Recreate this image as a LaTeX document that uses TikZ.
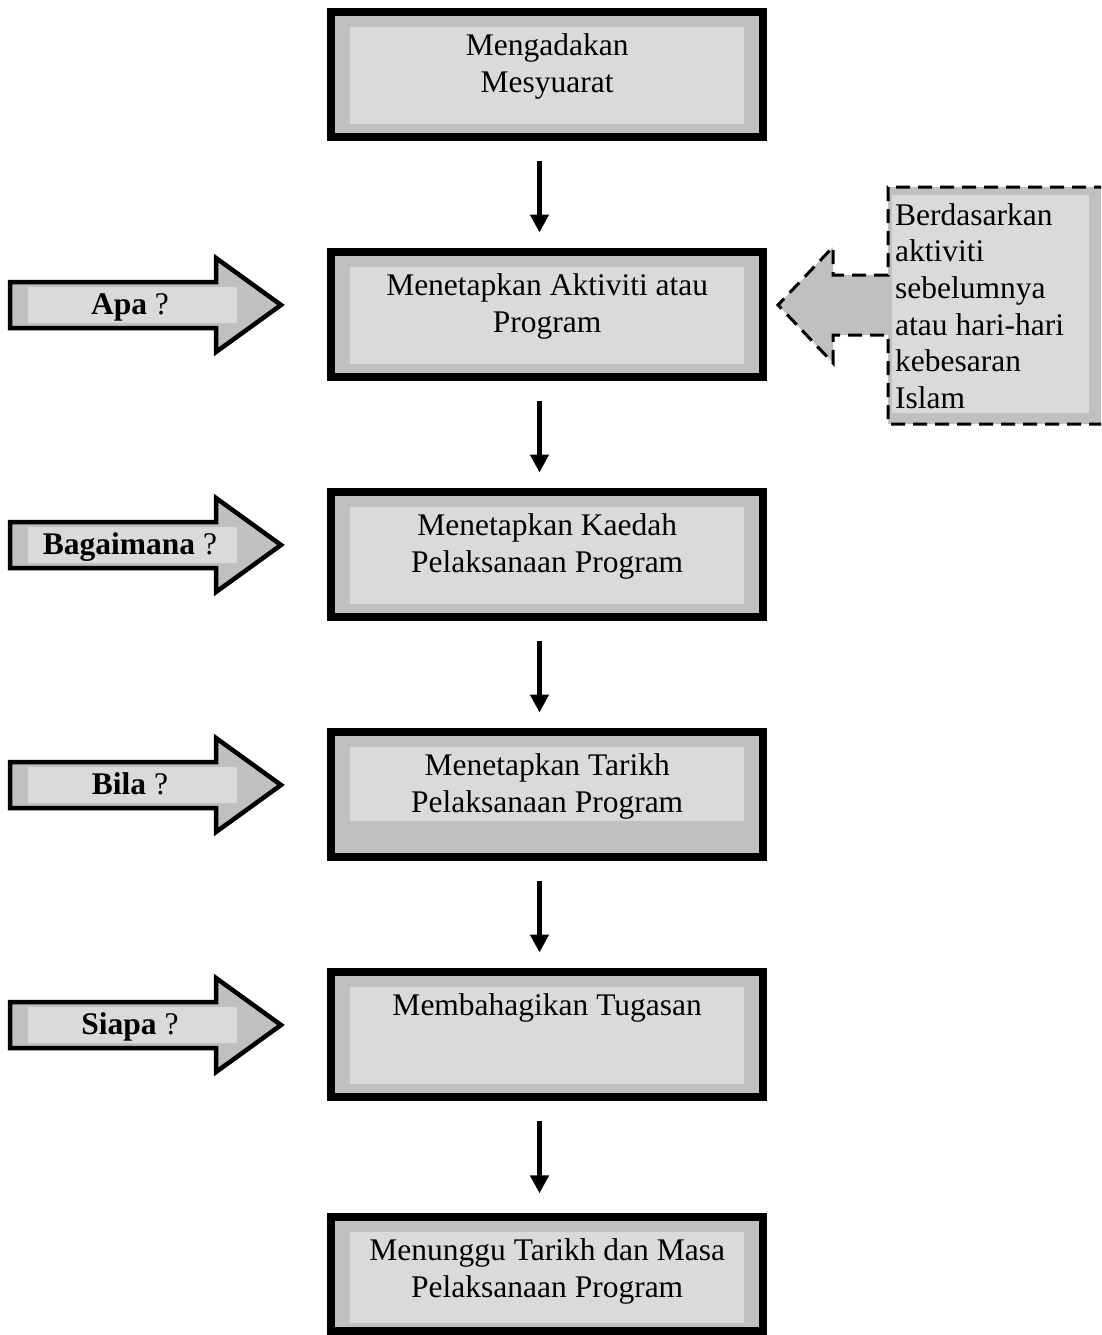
\documentclass[tikz,border=0pt]{standalone}
\usepackage{fontspec}
\setmainfont{Liberation Serif}
\usetikzlibrary{arrows.meta}
\definecolor{gmid}{RGB}{192,192,192}
\definecolor{glight}{RGB}{218,218,218}
\begin{document}
\begin{tikzpicture}[x=1pt,y=-1pt,
  flowbox/.style={draw=black, line width=8pt, fill=gmid, minimum width=432.5pt,
    minimum height=124.4pt, inner sep=0pt, outer sep=0pt, line join=miter},
  boxtext/.style={anchor=north, inner sep=0pt, align=center,
    font=\fontsize{31.5}{37.3}\selectfont},
  flowarrow/.style={line width=5pt, -{Triangle[width=18pt,length=18pt]}},
  qarrow/.style={draw=black, line width=4.5pt, fill=gmid, line join=miter},
  qtext/.style={anchor=base, inner sep=0pt, font=\fontsize{31.5}{37.3}\selectfont},
  sideshape/.style={draw=black, line width=3pt, fill=gmid, dash pattern=on 14pt off 8pt, line join=miter},
  sidetext/.style={anchor=north west, inner sep=0pt, align=left,
    font=\fontsize{31.5}{36.7}\selectfont}
]
\useasboundingbox (0,0) rectangle (1101,1335);
\clip (0,0) rectangle (1101,1335);

% main flow boxes
\node[flowbox] (b1) at (547.2,74.7) {};
\node[flowbox] (b2) at (547.2,314.5) {};
\node[flowbox] (b3) at (547.2,554.5) {};
\node[flowbox] (b4) at (547.2,794.5) {};
\node[flowbox] (b5) at (547.2,1034.5) {};
\node[flowbox, minimum height=113.7pt] (b6) at (547.2,1274.2) {};

\fill[glight] ([xshift=19pt,yshift=-14.4pt]b1.north west) rectangle ([xshift=-19pt,yshift=13pt]b1.south east);
\fill[glight] ([xshift=19pt,yshift=-14.4pt]b2.north west) rectangle ([xshift=-19pt,yshift=13pt]b2.south east);
\fill[glight] ([xshift=19pt,yshift=-14.4pt]b3.north west) rectangle ([xshift=-19pt,yshift=13pt]b3.south east);
\fill[glight] ([xshift=19pt,yshift=-14.4pt]b4.north west) rectangle ([xshift=-19pt,yshift=36pt]b4.south east);
\fill[glight] ([xshift=19pt,yshift=-14.4pt]b5.north west) rectangle ([xshift=-19pt,yshift=13pt]b5.south east);
\fill[glight] ([xshift=19pt,yshift=-14.4pt]b6.north west) rectangle ([xshift=-19pt,yshift=8pt]b6.south east);

\node[boxtext] (t1) at ([yshift=-16.45pt]b1.north) {\strut Mengadakan\\Mesyuarat};
\node[boxtext] (t2) at ([yshift=-16.45pt]b2.north) {\strut Menetapkan Aktiviti atau\\Program};
\node[boxtext] (t3) at ([yshift=-16.45pt]b3.north) {\strut Menetapkan Kaedah\\Pelaksanaan Program};
\node[boxtext] (t4) at ([yshift=-16.45pt]b4.north) {\strut Menetapkan Tarikh\\Pelaksanaan Program};
\node[boxtext] (t5) at ([yshift=-16.45pt]b5.north) {\strut Membahagikan Tugasan};
\node[boxtext] (t6) at ([yshift=-16.45pt]b6.north) {\strut Menunggu Tarikh dan Masa\\Pelaksanaan Program};

% connectors
\draw[flowarrow] ([xshift=-7.7pt,yshift=-24.5pt]b1.south) -- ([xshift=-7.7pt,yshift=19.8pt]b2.north);
\draw[flowarrow] ([xshift=-7.7pt,yshift=-24.5pt]b2.south) -- ([xshift=-7.7pt,yshift=19.8pt]b3.north);
\draw[flowarrow] ([xshift=-7.7pt,yshift=-24.5pt]b3.south) -- ([xshift=-7.7pt,yshift=19.8pt]b4.north);
\draw[flowarrow] ([xshift=-7.7pt,yshift=-24.5pt]b4.south) -- ([xshift=-7.7pt,yshift=19.8pt]b5.north);
\draw[flowarrow] ([xshift=-7.7pt,yshift=-24.5pt]b5.south) -- ([xshift=-7.7pt,yshift=24pt]b6.north);

% question arrows on the left
\foreach \cy in {305,545,785,1025}{
  \filldraw[qarrow, shift={(0,\cy)}] (10,-23) -- (216,-23) -- (216,-47) -- (281,0)
     -- (216,47) -- (216,23) -- (10,23) -- cycle;
  \fill[glight, shift={(0,\cy)}] (28,-18) rectangle (237,18);
}
\node[qtext] (q1) at (130,314) {\textbf{Apa} ?};
\node[qtext] (q2) at (130,554) {\textbf{Bagaimana} ?};
\node[qtext] (q3) at (130,794) {\textbf{Bila} ?};
\node[qtext] (q4) at (130,1034) {\textbf{Siapa} ?};

% dashed side callout
\filldraw[sideshape] (1108,187) -- (888,187) -- (888,275) -- (833,275) -- (833,247)
   -- (778,305) -- (833,363) -- (833,335) -- (888,335) -- (888,424) -- (1108,424);
\fill[glight] (892,195) rectangle (1089,413);
\node[sidetext] (s) at (895,199.3) {\strut Berdasarkan\\aktiviti\\sebelumnya\\atau hari-hari\\kebesaran\\Islam};
\end{tikzpicture}
\end{document}
